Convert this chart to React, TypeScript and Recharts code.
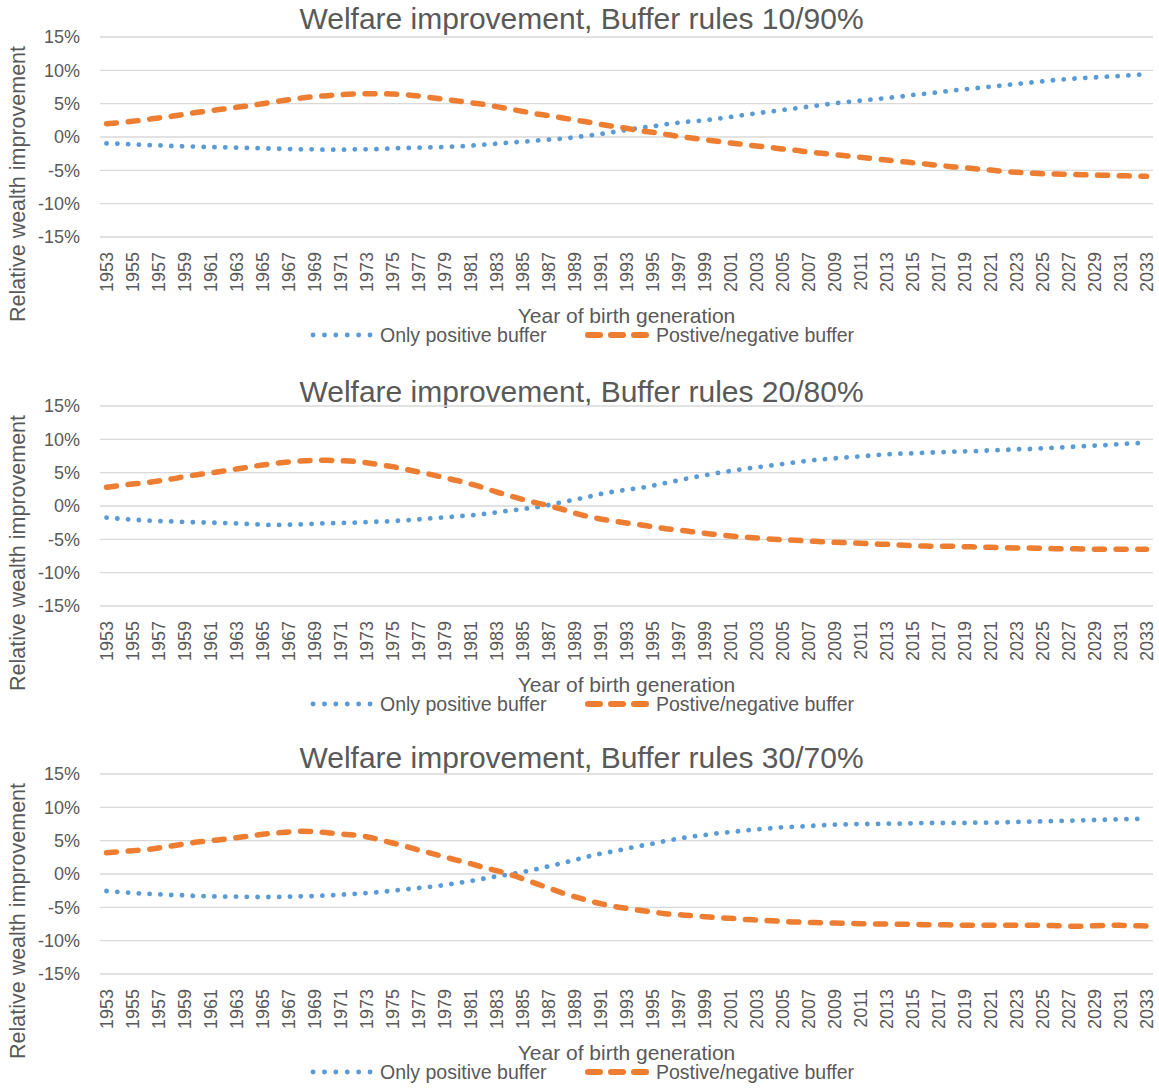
import { LineChart, Line, XAxis, YAxis, CartesianGrid } from "recharts";

const FONT = '"Liberation Sans", Arial, sans-serif';
const TEXT = "#595959";
const BLUE = "#5B9BD5";
const ORANGE = "#ED7D31";

const YEARS = Array.from({ length: 81 }, (_, i) => 1953 + i);
const Y_TICKS = [-15, -10, -5, 0, 5, 10, 15];

// relative wealth improvement in %, one value per birth year 1953..2033
const POS_10_90 = [
  -0.95, -1.0, -1.1, -1.2, -1.25, -1.35, -1.4, -1.45, -1.5, -1.55,
  -1.6, -1.65, -1.7, -1.75, -1.8, -1.85, -1.85, -1.9, -1.9, -1.85,
  -1.85, -1.8, -1.7, -1.65, -1.6, -1.55, -1.5, -1.4, -1.3, -1.15,
  -1.0, -0.85, -0.7, -0.55, -0.4, -0.25, -0.05, 0.2, 0.45, 0.75,
  1.05, 1.35, 1.6, 1.9, 2.15, 2.35, 2.5, 2.75, 3.0, 3.3,
  3.55, 3.8, 4.05, 4.3, 4.55, 4.8, 5.05, 5.25, 5.45, 5.65,
  5.85, 6.05, 6.3, 6.5, 6.7, 6.95, 7.15, 7.35, 7.55, 7.75,
  7.95, 8.15, 8.35, 8.55, 8.7, 8.85, 8.95, 9.05, 9.15, 9.3,
  9.4,
];
const POSNEG_10_90 = [
  2.0, 2.15, 2.35, 2.6, 2.85, 3.1, 3.4, 3.7, 3.95, 4.2,
  4.45, 4.7, 5.0, 5.3, 5.6, 5.85, 6.05, 6.2, 6.35, 6.45,
  6.5, 6.5, 6.45, 6.35, 6.15, 5.9, 5.65, 5.4, 5.15, 4.9,
  4.55, 4.2, 3.85, 3.5, 3.2, 2.9, 2.55, 2.25, 1.9, 1.6,
  1.3, 0.95, 0.7, 0.4, 0.1, -0.15, -0.4, -0.65, -0.9, -1.1,
  -1.35, -1.55, -1.8, -2.0, -2.25, -2.45, -2.65, -2.85, -3.05, -3.25,
  -3.45, -3.65, -3.85, -4.05, -4.25, -4.45, -4.6, -4.8, -4.95, -5.15,
  -5.3, -5.4, -5.5, -5.55, -5.6, -5.65, -5.7, -5.75, -5.8, -5.85,
  -5.9,
];

const POS_20_80 = [
  -1.75, -1.9, -2.05, -2.15, -2.25, -2.3, -2.4, -2.45, -2.5, -2.55,
  -2.6, -2.7, -2.8, -2.85, -2.8, -2.75, -2.65, -2.6, -2.55, -2.5,
  -2.4, -2.35, -2.25, -2.15, -2.0, -1.85, -1.7, -1.55, -1.4, -1.2,
  -0.95, -0.7, -0.45, -0.2, 0.15, 0.55, 0.95, 1.35, 1.8, 2.15,
  2.45, 2.7, 3.05, 3.45, 3.85, 4.25, 4.6, 4.95, 5.25, 5.55,
  5.8, 6.05, 6.3, 6.55, 6.8, 7.0, 7.15, 7.3, 7.45, 7.6,
  7.75, 7.85, 7.9, 8.0, 8.05, 8.15, 8.2, 8.25, 8.35, 8.4,
  8.5, 8.55, 8.65, 8.75, 8.85, 8.95, 9.05, 9.15, 9.3, 9.4,
  9.5,
];
const POSNEG_20_80 = [
  2.8, 3.05, 3.3, 3.5, 3.75, 4.05, 4.4, 4.7, 4.95, 5.25,
  5.55, 5.85, 6.15, 6.4, 6.6, 6.75, 6.85, 6.85, 6.8, 6.7,
  6.5, 6.2, 5.9, 5.5, 5.1, 4.7, 4.25, 3.8, 3.3, 2.75,
  2.1, 1.55, 1.0, 0.5, 0.05, -0.45, -1.05, -1.55, -1.95, -2.25,
  -2.55, -2.8, -3.1, -3.4, -3.6, -3.85, -4.1, -4.3, -4.5, -4.65,
  -4.8, -4.95, -5.05, -5.15, -5.25, -5.35, -5.45, -5.5, -5.6, -5.7,
  -5.75, -5.85, -5.95, -6.0, -6.05, -6.05, -6.1, -6.15, -6.2, -6.25,
  -6.3, -6.3, -6.35, -6.4, -6.4, -6.45, -6.5, -6.5, -6.5, -6.5,
  -6.5,
];

const POS_30_70 = [
  -2.55, -2.7, -2.85, -2.95, -3.05, -3.15, -3.2, -3.3, -3.35, -3.4,
  -3.4, -3.45, -3.45, -3.45, -3.4, -3.35, -3.3, -3.2, -3.1, -3.0,
  -2.85, -2.7, -2.5, -2.3, -2.1, -1.9, -1.65, -1.35, -1.05, -0.7,
  -0.35, -0.05, 0.3, 0.7, 1.15, 1.6, 2.1, 2.6, 3.05, 3.4,
  3.8, 4.2, 4.55, 4.95, 5.3, 5.6, 5.85, 6.1, 6.3, 6.5,
  6.7, 6.85, 7.0, 7.1, 7.2, 7.3, 7.4, 7.45, 7.5, 7.5,
  7.55, 7.55, 7.6, 7.65, 7.65, 7.65, 7.65, 7.7, 7.7, 7.75,
  7.8, 7.85, 7.9, 7.95, 8.0, 8.05, 8.1, 8.15, 8.2, 8.25,
  8.3,
];
const POSNEG_30_70 = [
  3.2, 3.35, 3.5, 3.65, 3.9, 4.2, 4.5, 4.8, 5.0, 5.2,
  5.45, 5.7, 5.95, 6.15, 6.3, 6.4, 6.35, 6.2, 6.0, 5.85,
  5.6, 5.15, 4.65, 4.15, 3.6, 3.1, 2.55, 2.05, 1.55, 1.0,
  0.5, -0.05, -0.7, -1.4, -2.1, -2.8, -3.4, -3.95, -4.45, -4.85,
  -5.15, -5.45, -5.7, -5.95, -6.1, -6.25, -6.4, -6.55, -6.65, -6.8,
  -6.9, -7.0, -7.1, -7.2, -7.25, -7.3, -7.35, -7.4, -7.45, -7.5,
  -7.5, -7.55, -7.55, -7.6, -7.6, -7.65, -7.7, -7.7, -7.7, -7.7,
  -7.7, -7.7, -7.7, -7.75, -7.85, -7.85, -7.75, -7.7, -7.7, -7.75,
  -7.8,
];

const PANELS = [
  { title: "Welfare improvement, Buffer rules 10/90%", positive: POS_10_90, posNeg: POSNEG_10_90, top: 0, titleTop: 4 },
  { title: "Welfare improvement, Buffer rules 20/80%", positive: POS_20_80, posNeg: POSNEG_20_80, top: 369, titleTop: 8 },
  { title: "Welfare improvement, Buffer rules 30/70%", positive: POS_30_70, posNeg: POSNEG_30_70, top: 737, titleTop: 6 },
];

const YearTick = ({ x, y, payload }: any) => (
  <text
    x={x}
    y={y}
    dy="0.35em"
    transform={`rotate(-90, ${x}, ${y})`}
    textAnchor="end"
    fill={TEXT}
    fontSize={18}
    fontFamily={FONT}
  >
    {payload.value}
  </text>
);

function Panel({ title, positive, posNeg, top, titleTop }: any) {
  const data = YEARS.map((year, i) => ({ year, positive: positive[i], posNeg: posNeg[i] }));
  return (
    <div style={{ position: "absolute", left: 0, top, width: 1159, height: 368 }}>
      <div
        style={{
          position: "absolute",
          left: 2,
          top: titleTop,
          width: 1159,
          textAlign: "center",
          fontFamily: FONT,
          fontSize: 30,
          lineHeight: "30px",
          color: TEXT,
          whiteSpace: "nowrap",
        }}
      >
        {title}
      </div>
      <LineChart width={1159} height={330} data={data} margin={{ top: 37, right: 6, left: 0, bottom: 3 }}>
        <CartesianGrid vertical={false} stroke="#D9D9D9" strokeWidth={1.4} />
        <XAxis
          dataKey="year"
          interval={1}
          padding={{ left: 6.5, right: 6.5 }}
          axisLine={false}
          tickLine={false}
          tickMargin={9}
          tick={<YearTick />}
          height={90}
          label={({ viewBox }: any) => (
            <text
              x={viewBox.x + viewBox.width / 2}
              y={viewBox.y + 86}
              textAnchor="middle"
              fill={TEXT}
              fontSize={21}
              fontFamily={FONT}
            >
              Year of birth generation
            </text>
          )}
        />
        <YAxis
          width={100}
          domain={[-15, 15]}
          ticks={Y_TICKS}
          axisLine={false}
          tickLine={false}
          tickMargin={14}
          tickFormatter={(v: number) => `${v}%`}
          tick={{ fill: TEXT, fontSize: 18, fontFamily: FONT }}
          label={({ viewBox }: any) => (
            <text
              x={25}
              y={viewBox.y + 147}
              transform={`rotate(-90, 25, ${viewBox.y + 147})`}
              textAnchor="middle"
              fill={TEXT}
              fontSize={21.5}
              fontFamily={FONT}
            >
              Relative wealth improvement
            </text>
          )}
        />
        <Line
          type="monotone"
          dataKey="positive"
          name="Only positive buffer"
          stroke={BLUE}
          strokeWidth={4.8}
          strokeLinecap="round"
          strokeDasharray="0.1 10.7"
          dot={false}
          activeDot={false}
          isAnimationActive={false}
        />
        <Line
          type="monotone"
          dataKey="posNeg"
          name="Postive/negative buffer"
          stroke={ORANGE}
          strokeWidth={5.5}
          strokeLinecap="round"
          strokeDasharray="10 11.7"
          dot={false}
          activeDot={false}
          isAnimationActive={false}
        />
      </LineChart>
      {/* legend */}
      <svg style={{ position: "absolute", left: 0, top: 320 }} width={1159} height={30}>
        <line x1={313} y1={15} x2={371} y2={15} stroke={BLUE} strokeWidth={4.8} strokeLinecap="round" strokeDasharray="0.1 11.3" />
        <text x={380} y={22} fill={TEXT} fontSize={19.5} fontFamily={FONT}>
          Only positive buffer
        </text>
        <line x1={588} y1={15} x2={647} y2={15} stroke={ORANGE} strokeWidth={6} strokeLinecap="round" strokeDasharray="12 11" />
        <text x={656} y={22} fill={TEXT} fontSize={19.5} fontFamily={FONT}>
          Postive/negative buffer
        </text>
      </svg>
    </div>
  );
}

export default function App() {
  return (
    <div style={{ position: "absolute", left: 0, top: 0, width: 1159, height: 1088, background: "#fff" }}>
      {PANELS.map((p) => (
        <Panel key={p.title} {...p} />
      ))}
    </div>
  );
}
